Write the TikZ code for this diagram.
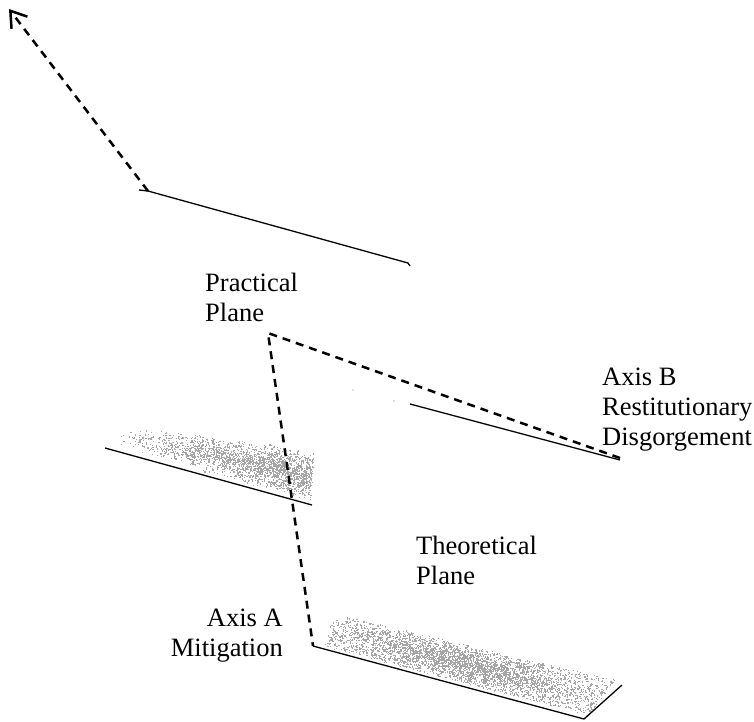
\documentclass[tikz,border=0pt]{standalone}
\usepackage{fontspec}
\setmainfont{Liberation Serif}
\usetikzlibrary{arrows.meta}
\tikzset{
  axisline/.style={line width=2.5pt, dash pattern=on 8pt off 6pt},
  planeline/.style={line width=1.3pt},
  lbl/.style={font=\fontsize{26.5}{30}\selectfont, inner sep=0pt},
  speck/.style={fill=gray!70, draw=none},
}
\begin{document}
\begin{tikzpicture}[x=1pt,y=-1pt]
\useasboundingbox (0,0) rectangle (754,721);
% speckled shading of the left plane
\pgfmathsetseed{7}
\foreach \i in {1,...,2200}{
  \pgfmathsetmacro{\u}{sqrt(rnd)}
  \pgfmathsetmacro{\v}{(rnd+rnd)/2}
  \pgfmathsetmacro{\px}{(1-\v)*((1-\u)*114+\u*310)+\v*((1-\u)*126+\u*314)}
  \pgfmathsetmacro{\py}{(1-\v)*((1-\u)*446+\u*502)+\v*((1-\u)*424+\u*450)}
  \fill[speck] (\px,\py) rectangle ++(1.2,1.2);
}
% speckled shading of the bottom plane
\foreach \i in {1,...,1600}{
  \pgfmathsetmacro{\u}{rnd}
  \pgfmathsetmacro{\v}{rnd}
  \pgfmathsetmacro{\px}{(1-\v)*((1-\u)*320+\u*588)+\v*((1-\u)*336+\u*616)}
  \pgfmathsetmacro{\py}{(1-\v)*((1-\u)*645+\u*715)+\v*((1-\u)*614+\u*680)}
  \fill[speck] (\px,\py) rectangle ++(1.2,1.2);
}
\foreach \i in {1,...,2200}{
  \pgfmathsetmacro{\u}{(rnd+rnd)/2}
  \pgfmathsetmacro{\v}{(rnd+rnd)/2}
  \pgfmathsetmacro{\px}{(1-\v)*((1-\u)*320+\u*588)+\v*((1-\u)*336+\u*616)}
  \pgfmathsetmacro{\py}{(1-\v)*((1-\u)*645+\u*715)+\v*((1-\u)*614+\u*680)}
  \fill[speck] (\px,\py) rectangle ++(1.2,1.2);
}
\fill[gray!35] (352,389) rectangle ++(1.5,1.5) (393,400) rectangle ++(1.5,1.5);
% coordinates
\coordinate (arrowtip) at (9,9);
\coordinate (pcorner) at (148,191);
\coordinate (pstart) at (139,190);
\coordinate (pend) at (408,263);
\coordinate (origin) at (268,333);
\coordinate (bend) at (620,458);
\coordinate (aend) at (313,646);
\coordinate (rstart) at (410,404);
\coordinate (rend) at (620,460);
\coordinate (lstart) at (105,448);
\coordinate (lend) at (312,505);
\coordinate (bottom) at (584,719);
\coordinate (bright) at (622,685);
% plane lines
\draw[planeline] (pstart) -- (pcorner) -- (pend) -- ++(2,3);
\draw[planeline] (rstart) -- (rend);
\draw[planeline] (lstart) -- (lend);
\draw[planeline] (aend) -- (bottom) -- (bright);
% dashed axes
\draw[axisline, -{Straight Barb[length=15pt,width=20pt]}] (pcorner) -- (arrowtip);
\draw[axisline] (bend) -- (origin) -- (aend);
% labels
\node[lbl, anchor=north west, align=left] (practical) at (205,273) {Practical\\Plane};
\node[lbl, anchor=north west, align=left] (axisb) at (602,368) {Axis B\\Restitutionary\\Disgorgement};
\node[lbl, anchor=north west, align=left] (theoretical) at (416,536) {Theoretical\\Plane};
\node[lbl, anchor=north east, align=right] (axisa) at (283,609) {Axis A\\Mitigation};
\end{tikzpicture}
\end{document}
